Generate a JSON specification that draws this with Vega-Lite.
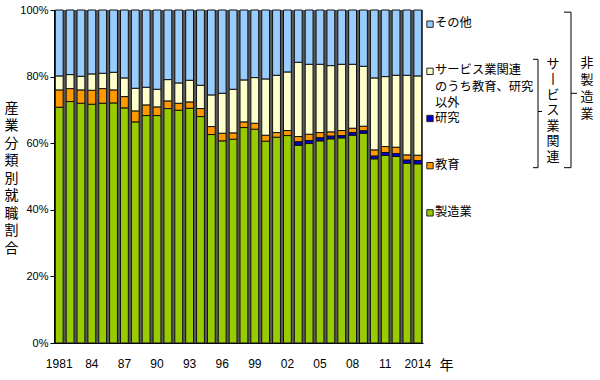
{
  "$schema": "https://vega.github.io/schema/vega-lite/v6.json",
  "padding": {"left": 4, "top": 4, "right": 0, "bottom": 0},
  "background": "white",
  "spacing": 0,
  "bounds": "flush",
  "config": {"font": "Liberation Sans", "view": {"stroke": null}},
  "resolve": {"scale": {"x": "independent", "y": "independent"}},
  "hconcat": [
    {
      "width": 369,
      "height": 333,
      "view": {"fill": "#5a5a5a", "stroke": null},
      "data": {"values": [
        {"year":1981,"製造業":70.8,"教育":5.2,"サービス業関連（教育・研究以外）":4.2,"その他":19.8},
        {"year":1982,"製造業":72.5,"教育":3.9,"サービス業関連（教育・研究以外）":4.2,"その他":19.4},
        {"year":1983,"製造業":72.0,"教育":4.0,"サービス業関連（教育・研究以外）":4.1,"その他":19.9},
        {"year":1984,"製造業":71.7,"教育":4.2,"サービス業関連（教育・研究以外）":4.9,"その他":19.2},
        {"year":1985,"製造業":72.0,"教育":4.4,"サービス業関連（教育・研究以外）":4.6,"その他":19.0},
        {"year":1986,"製造業":72.1,"教育":3.9,"サービス業関連（教育・研究以外）":5.3,"その他":18.7},
        {"year":1987,"製造業":70.6,"教育":3.4,"サービス業関連（教育・研究以外）":5.6,"その他":20.4},
        {"year":1988,"製造業":66.4,"教育":3.3,"サービス業関連（教育・研究以外）":6.8,"その他":23.5},
        {"year":1989,"製造業":68.3,"教育":3.2,"サービス業関連（教育・研究以外）":5.3,"その他":23.2},
        {"year":1990,"製造業":68.3,"教育":2.6,"サービス業関連（教育・研究以外）":5.3,"その他":23.8},
        {"year":1991,"製造業":70.4,"教育":2.3,"サービス業関連（教育・研究以外）":6.4,"その他":20.9},
        {"year":1992,"製造業":69.9,"教育":2.1,"サービス業関連（教育・研究以外）":6.1,"その他":21.9},
        {"year":1993,"製造業":70.5,"教育":1.9,"サービス業関連（教育・研究以外）":6.5,"その他":21.1},
        {"year":1994,"製造業":68.0,"教育":2.4,"サービス業関連（教育・研究以外）":7.0,"その他":22.6},
        {"year":1995,"製造業":62.6,"教育":2.4,"サービス業関連（教育・研究以外）":9.5,"その他":25.5},
        {"year":1996,"製造業":60.7,"教育":2.3,"サービス業関連（教育・研究以外）":12.0,"その他":25.0},
        {"year":1997,"製造業":61.2,"教育":1.9,"サービス業関連（教育・研究以外）":13.1,"その他":23.8},
        {"year":1998,"製造業":64.7,"教育":1.7,"サービス業関連（教育・研究以外）":12.6,"その他":21.0},
        {"year":1999,"製造業":64.2,"教育":1.8,"サービス業関連（教育・研究以外）":13.7,"その他":20.3},
        {"year":2000,"製造業":60.6,"教育":1.8,"サービス業関連（教育・研究以外）":16.9,"その他":20.7},
        {"year":2001,"製造業":61.8,"教育":1.4,"サービス業関連（教育・研究以外）":17.2,"その他":19.6},
        {"year":2002,"製造業":62.3,"教育":1.5,"サービス業関連（教育・研究以外）":17.6,"その他":18.6},
        {"year":2003,"製造業":59.4,"教育":1.6,"研究":1.0,"サービス業関連（教育・研究以外）":22.3,"その他":15.7},
        {"year":2004,"製造業":59.9,"教育":1.9,"研究":0.9,"サービス業関連（教育・研究以外）":21.0,"その他":16.3},
        {"year":2005,"製造業":60.7,"教育":1.6,"研究":0.9,"サービス業関連（教育・研究以外）":20.5,"その他":16.3},
        {"year":2006,"製造業":61.3,"教育":1.3,"研究":0.8,"サービス業関連（教育・研究以外）":19.9,"その他":16.7},
        {"year":2007,"製造業":61.6,"教育":1.5,"研究":0.7,"サービス業関連（教育・研究以外）":19.9,"その他":16.3},
        {"year":2008,"製造業":62.4,"教育":1.3,"研究":0.8,"サービス業関連（教育・研究以外）":19.2,"その他":16.3},
        {"year":2009,"製造業":63.0,"教育":1.4,"研究":0.7,"サービス業関連（教育・研究以外）":18.0,"その他":16.9},
        {"year":2010,"製造業":55.3,"教育":1.9,"研究":0.8,"サービス業関連（教育・研究以外）":21.6,"その他":20.4},
        {"year":2011,"製造業":56.3,"教育":1.8,"研究":0.9,"サービス業関連（教育・研究以外）":21.0,"その他":20.0},
        {"year":2012,"製造業":56.0,"教育":1.9,"研究":0.9,"サービス業関連（教育・研究以外）":21.6,"その他":19.6},
        {"year":2013,"製造業":54.0,"教育":1.6,"研究":0.9,"サービス業関連（教育・研究以外）":23.9,"その他":19.6},
        {"year":2014,"製造業":53.8,"教育":1.6,"研究":1.0,"サービス業関連（教育・研究以外）":23.8,"その他":19.8}
      ]},
      "transform": [
        {"fold": ["製造業", "教育", "研究", "サービス業関連（教育・研究以外）", "その他"], "as": ["cat", "v"]},
        {"filter": "isValid(datum.v)"}
      ],
      "mark": {"type": "bar", "stroke": "#111111", "strokeWidth": 1},
      "encoding": {
        "x": {
          "field": "year", "type": "ordinal",
          "scale": {"paddingInner": 0.28, "paddingOuter": 0.12},
          "axis": {
            "title": "年", "titleFont": "Noto Sans CJK JP", "titleFontSize": 14, "titleFontWeight": "normal",
            "titleX": 392, "titleY": 22, "titleAlign": "center", "titleBaseline": "middle", "titleColor": "black",
            "labelAngle": 0, "labelFontSize": 12, "labelColor": "black", "labelPadding": 15,
            "ticks": false, "tickSize": 0, "domainColor": "#000000", "domainWidth": 1,
            "labelOverlap": false,
            "labelExpr": "(datum.value - 1981) % 3 == 0 ? ((datum.value == 1981 || datum.value == 2014) ? '' + datum.value : substring('' + datum.value, 2, 4)) : ''"
          }
        },
        "y": {
          "field": "v", "type": "quantitative", "stack": "normalize",
          "axis": {
            "values": [0, 0.2, 0.4, 0.6, 0.8, 1], "format": ".0%", "grid": false,
            "labelFontSize": 11, "labelColor": "black", "labelPadding": 2,
            "tickSize": 4, "tickColor": "black", "domainColor": "#000000",
            "title": ["産", "業", "分", "類", "別", "就", "職", "割", "合"],
            "titleFont": "Noto Sans CJK JP", "titleFontSize": 14, "titleFontWeight": "normal", "titleColor": "black",
            "titleAngle": 0, "titleX": -43, "titleY": 98, "titleAlign": "center", "titleBaseline": "middle",
            "titleLineHeight": 17.5
          }
        },
        "color": {
          "field": "cat", "type": "nominal",
          "sort": ["製造業", "教育", "研究", "サービス業関連（教育・研究以外）", "その他"],
          "scale": {
            "domain": ["製造業", "教育", "研究", "サービス業関連（教育・研究以外）", "その他"],
            "range": ["#99cc00", "#ff9900", "#0000cc", "#ffffcc", "#99ccff"]
          },
          "legend": null
        }
      }
    },
    {
      "width": 170,
      "height": 217,
      "view": {"stroke": null},
      "data": {"values": [
        {"cat": "その他", "label": "その他"},
        {"cat": "サービス業関連（教育・研究以外）", "label": "サービス業関連\nのうち教育、研究\n以外"},
        {"cat": "研究", "label": "研究"},
        {"cat": "教育", "label": "教育"},
        {"cat": "製造業", "label": "製造業"}
      ]},
      "layer": [
        {
          "mark": {"type": "point", "shape": "square", "size": 40, "filled": true, "opacity": 1, "stroke": "#222222", "strokeWidth": 1},
          "encoding": {
            "x": {"value": 7},
            "y": {"field": "cat", "type": "nominal", "axis": null,
                  "scale": {"type": "point", "domain": ["その他", "サービス業関連（教育・研究以外）", "研究", "教育", "製造業"], "padding": 0.3}},
            "color": {"field": "cat", "type": "nominal",
              "scale": {
                "domain": ["製造業", "教育", "研究", "サービス業関連（教育・研究以外）", "その他"],
                "range": ["#99cc00", "#ff9900", "#0000cc", "#ffffcc", "#99ccff"]
              }, "legend": null}
          }
        },
        {
          "mark": {"type": "text", "align": "left", "baseline": "top", "yOffset": -7, "lineBreak": "\n",
                   "font": "Noto Sans CJK JP", "fontSize": 12.3, "lineHeight": 16.5, "color": "black"},
          "encoding": {
            "x": {"value": 12},
            "y": {"field": "cat", "type": "nominal", "axis": null},
            "text": {"field": "label", "type": "nominal"}
          }
        },
        {
          "data": {"values": [{}]},
          "mark": {"type": "rule", "color": "black", "strokeWidth": 1, "yOffset": -12, "y2Offset": 2},
          "encoding": {
            "x": {"value": 115},
            "y": {"datum": "サービス業関連（教育・研究以外）", "type": "nominal", "axis": null},
            "y2": {"datum": "教育"}
          }
        },
        {
          "data": {"values": [{}]},
          "mark": {"type": "rule", "color": "black", "strokeWidth": 1, "yOffset": -12},
          "encoding": {
            "x": {"value": 110}, "x2": {"value": 115},
            "y": {"datum": "サービス業関連（教育・研究以外）", "type": "nominal", "axis": null}
          }
        },
        {
          "data": {"values": [{}]},
          "mark": {"type": "rule", "color": "black", "strokeWidth": 1, "yOffset": 2},
          "encoding": {
            "x": {"value": 110}, "x2": {"value": 115},
            "y": {"datum": "教育", "type": "nominal", "axis": null}
          }
        },
        {
          "data": {"values": [{}]},
          "mark": {"type": "rule", "color": "black", "strokeWidth": 1, "yOffset": -7},
          "encoding": {
            "x": {"value": 115}, "x2": {"value": 119},
            "y": {"datum": "研究", "type": "nominal", "axis": null}
          }
        },
        {
          "data": {"values": [{}]},
          "mark": {"type": "text", "align": "center", "baseline": "middle", "yOffset": -55, "lineBreak": "\n",
                   "font": "Noto Sans CJK JP", "fontSize": 13, "lineHeight": 15.5, "color": "black"},
          "encoding": {
            "x": {"value": 130},
            "y": {"datum": "研究", "type": "nominal", "axis": null},
            "text": {"value": "サ\n丨\nビ\nス\n業\n関\n連"}
          }
        },
        {
          "data": {"values": [{}]},
          "mark": {"type": "rule", "color": "black", "strokeWidth": 1, "yOffset": -12, "y2Offset": 2},
          "encoding": {
            "x": {"value": 148},
            "y": {"datum": "その他", "type": "nominal", "axis": null},
            "y2": {"datum": "教育"}
          }
        },
        {
          "data": {"values": [{}]},
          "mark": {"type": "rule", "color": "black", "strokeWidth": 1, "yOffset": -12},
          "encoding": {
            "x": {"value": 141}, "x2": {"value": 148},
            "y": {"datum": "その他", "type": "nominal", "axis": null}
          }
        },
        {
          "data": {"values": [{}]},
          "mark": {"type": "rule", "color": "black", "strokeWidth": 1, "yOffset": 2},
          "encoding": {
            "x": {"value": 141}, "x2": {"value": 148},
            "y": {"datum": "教育", "type": "nominal", "axis": null}
          }
        },
        {
          "data": {"values": [{}]},
          "mark": {"type": "rule", "color": "black", "strokeWidth": 1, "yOffset": 22},
          "encoding": {
            "x": {"value": 148}, "x2": {"value": 154},
            "y": {"datum": "サービス業関連（教育・研究以外）", "type": "nominal", "axis": null}
          }
        },
        {
          "data": {"values": [{}]},
          "mark": {"type": "text", "align": "center", "baseline": "middle", "yOffset": -8, "lineBreak": "\n",
                   "font": "Noto Sans CJK JP", "fontSize": 13, "lineHeight": 17, "color": "black"},
          "encoding": {
            "x": {"value": 164},
            "y": {"datum": "サービス業関連（教育・研究以外）", "type": "nominal", "axis": null},
            "text": {"value": "非\n製\n造\n業"}
          }
        }
      ]
    }
  ]
}
